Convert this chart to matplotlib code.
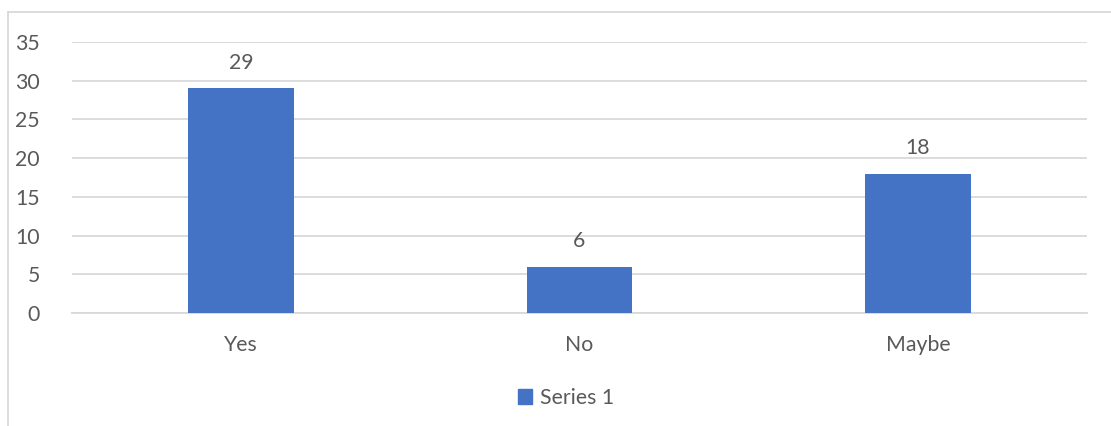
import matplotlib
matplotlib.use("Agg")
import matplotlib.pyplot as plt
from matplotlib.lines import Line2D
from matplotlib.patches import Patch

categories = ["Yes", "No", "Maybe"]
values = [29, 6, 18]
series_name = "Series 1"
yticks = [0, 5, 10, 15, 20, 25, 30, 35]

W, H = 1111, 426
fig = plt.figure(figsize=(W / 100, H / 100), dpi=100)
plt.rcParams['font.family'] = ['Lato', 'DejaVu Sans']
txt = '#595959'
blue = '#4472C4'
grid = '#D9D9D9'
fs = 15.3

ax = fig.add_axes([72 / W, 1 - 313 / H, (1087 - 72) / W, (313 - 42) / H])
x = list(range(len(categories)))
bars = ax.bar(x, values, width=0.313, color=blue, zorder=3)
ax.set_xlim(-0.5, len(categories) - 0.5)
ax.set_ylim(0, 35)
ax.set_yticks(yticks)
ax.set_yticklabels([str(t) for t in yticks])
ax.set_xticks(x)
ax.set_xticklabels(categories)
ax.yaxis.grid(True, color=grid, linewidth=1.3, zorder=0)
for s in ['top', 'right', 'left']:
    ax.spines[s].set_visible(False)
ax.spines['bottom'].set_color(grid)
ax.spines['bottom'].set_linewidth(1.3)
ax.tick_params(axis='both', length=0, labelsize=fs, colors=txt)
ax.tick_params(axis='y', pad=23)
ax.tick_params(axis='x', pad=16)
for b, v in zip(bars, values):
    ax.annotate(str(v), (b.get_x() + b.get_width() / 2, v), xytext=(0, 11),
                textcoords='offset points', ha='center', va='bottom',
                fontsize=fs, color=txt)

leg = fig.legend(handles=[Patch(color=blue, label=series_name)], loc='center',
                 bbox_to_anchor=(566 / W, 1 - 398 / H), frameon=False,
                 fontsize=fs, handlelength=0.65, handleheight=0.65,
                 handletextpad=0.4, labelcolor=txt)

fig.add_artist(Line2D([8 / W, 8 / W], [0, 1 - 12 / H], transform=fig.transFigure,
                      color='#D9D9D9', linewidth=1.3))
fig.add_artist(Line2D([8 / W, 1], [1 - 12 / H, 1 - 12 / H], transform=fig.transFigure,
                      color='#D9D9D9', linewidth=1.3))

fig.savefig("out.png", dpi=100)
